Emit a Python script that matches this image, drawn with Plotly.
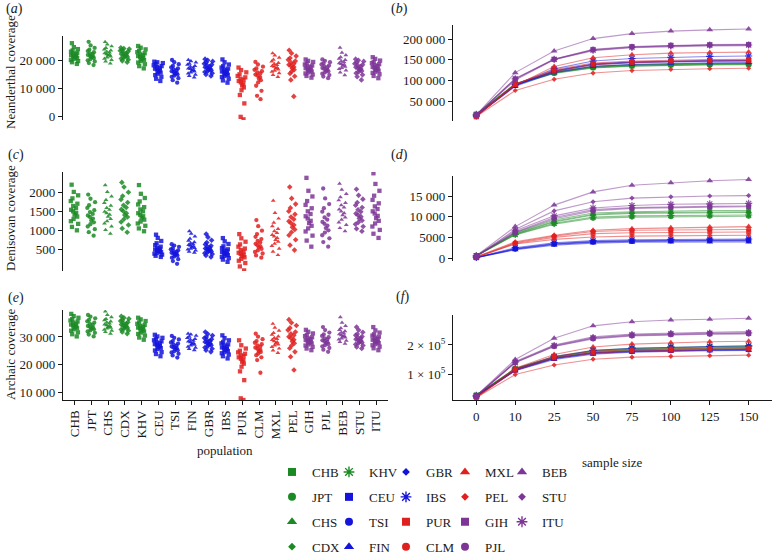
import plotly.graph_objects as go

# ---------------- data ----------------
POPS = ["CHB", "JPT", "CHS", "CDX", "KHV", "CEU", "TSI", "FIN", "GBR", "IBS",
        "PUR", "CLM", "MXL", "PEL", "GIH", "PJL", "BEB", "STU", "ITU"]
SAMPLE_SIZES = ["0", "10", "25", "50", "75", "100", "125", "150"]

# per-individual Neanderthal coverage (thousands of bp)
NEAND_K = {
    "CHB": [18.6, 19.2, 19.6, 20.0, 20.4, 20.7, 21.0, 21.3, 21.5, 21.7, 22.0, 22.3, 22.6, 23.0, 23.4, 23.9, 24.6, 26.0],
    "JPT": [18.2, 18.9, 19.5, 19.9, 20.3, 20.7, 21.0, 21.3, 21.5, 21.8, 22.1, 22.4, 22.8, 23.2, 23.7, 24.3, 25.2, 26.5],
    "CHS": [18.8, 19.5, 20.0, 20.5, 20.9, 21.3, 21.6, 21.9, 22.1, 22.4, 22.7, 23.0, 23.4, 23.8, 24.3, 24.9, 25.6, 26.5],
    "CDX": [19.2, 19.7, 20.1, 20.5, 20.8, 21.1, 21.4, 21.7, 21.9, 22.1, 22.4, 22.7, 23.0, 23.3, 23.6, 23.9, 24.1, 24.4],
    "KHV": [17.0, 17.8, 18.5, 19.1, 19.6, 20.0, 20.4, 20.8, 21.1, 21.4, 21.7, 22.0, 22.4, 22.8, 23.3, 23.8, 24.4, 25.0],
    "CEU": [12.5, 13.3, 14.0, 14.6, 15.1, 15.5, 15.9, 16.3, 16.6, 16.9, 17.2, 17.5, 17.8, 18.1, 18.5, 18.9, 19.2, 19.4],
    "TSI": [11.9, 12.8, 13.5, 14.0, 14.4, 14.8, 15.1, 15.4, 15.7, 16.0, 16.3, 16.6, 17.0, 17.4, 17.9, 18.5, 19.2, 20.0],
    "FIN": [13.8, 14.3, 14.8, 15.2, 15.6, 15.9, 16.2, 16.5, 16.8, 17.0, 17.3, 17.6, 17.9, 18.3, 18.7, 19.1, 19.6, 20.0],
    "GBR": [14.3, 14.8, 15.3, 15.7, 16.0, 16.3, 16.6, 16.9, 17.1, 17.4, 17.7, 18.0, 18.3, 18.7, 19.1, 19.5, 19.9, 20.3],
    "IBS": [11.9, 12.7, 13.3, 13.9, 14.3, 14.7, 15.0, 15.3, 15.6, 15.9, 16.2, 16.5, 16.9, 17.3, 17.8, 18.4, 19.2, 20.2],
    "PUR": [-1.2, -0.3, 4.5, 7.5, 9.2, 10.2, 10.9, 11.5, 12.0, 12.5, 12.9, 13.3, 13.8, 14.3, 14.9, 15.6, 16.4, 17.3],
    "CLM": [6.0, 7.2, 9.0, 10.8, 12.0, 12.8, 13.4, 13.9, 14.4, 14.8, 15.2, 15.6, 16.0, 16.5, 17.0, 17.6, 18.4, 19.3],
    "MXL": [14.0, 14.7, 15.3, 15.8, 16.2, 16.6, 17.0, 17.3, 17.6, 17.9, 18.2, 18.6, 19.0, 19.5, 20.1, 20.8, 21.6, 22.4],
    "PEL": [7.0, 12.9, 14.2, 15.2, 15.9, 16.5, 17.0, 17.5, 17.9, 18.3, 18.7, 19.1, 19.6, 20.1, 20.7, 21.4, 22.4, 23.5],
    "GIH": [13.7, 14.3, 14.8, 15.2, 15.6, 15.9, 16.2, 16.5, 16.8, 17.1, 17.4, 17.7, 18.0, 18.4, 18.8, 19.3, 19.7, 20.2],
    "PJL": [13.5, 14.1, 14.6, 15.1, 15.5, 15.9, 16.2, 16.5, 16.8, 17.1, 17.4, 17.7, 18.0, 18.4, 18.8, 19.2, 19.7, 20.2],
    "BEB": [14.6, 15.6, 16.3, 16.8, 17.2, 17.6, 18.0, 18.3, 18.6, 18.9, 19.2, 19.6, 20.0, 20.5, 21.0, 21.7, 22.6, 24.4],
    "STU": [12.9, 14.0, 14.7, 15.3, 15.7, 16.1, 16.5, 16.8, 17.1, 17.4, 17.7, 18.0, 18.3, 18.7, 19.1, 19.5, 19.9, 20.3],
    "ITU": [13.5, 14.3, 14.9, 15.4, 15.8, 16.2, 16.5, 16.9, 17.2, 17.5, 17.8, 18.1, 18.5, 18.9, 19.3, 19.8, 20.4, 21.0],
}

# per-individual Denisovan coverage (bp)
DENIS = {
    "CHB": [1010, 1100, 1180, 1250, 1310, 1370, 1420, 1470, 1510, 1550, 1600, 1650, 1710, 1780, 1850, 1930, 2020, 2210],
    "JPT": [870, 960, 1040, 1110, 1170, 1220, 1270, 1320, 1360, 1400, 1440, 1490, 1540, 1600, 1670, 1750, 1840, 1950],
    "CHS": [920, 1020, 1110, 1190, 1250, 1310, 1370, 1420, 1460, 1500, 1550, 1600, 1660, 1730, 1810, 1900, 2020, 2200],
    "CDX": [960, 1060, 1150, 1230, 1300, 1360, 1410, 1460, 1510, 1560, 1610, 1670, 1740, 1820, 1910, 2010, 2150, 2270],
    "KHV": [985, 1060, 1130, 1190, 1240, 1290, 1340, 1380, 1420, 1460, 1510, 1560, 1620, 1690, 1770, 1860, 1970, 2200],
    "CEU": [310, 340, 370, 395, 420, 440, 460, 475, 490, 505, 525, 550, 580, 620, 670, 730, 810, 895],
    "TSI": [130, 200, 250, 290, 320, 345, 370, 390, 405, 420, 440, 460, 485, 510, 540, 575, 610, 645],
    "FIN": [420, 450, 480, 505, 530, 550, 570, 590, 605, 625, 645, 670, 700, 740, 790, 850, 920, 985],
    "GBR": [310, 350, 385, 410, 435, 455, 475, 495, 510, 530, 550, 575, 605, 640, 690, 750, 830, 910],
    "IBS": [180, 240, 280, 310, 335, 360, 380, 400, 420, 440, 460, 485, 510, 545, 590, 650, 720, 805],
    "PUR": [-45, 60, 150, 210, 260, 300, 335, 365, 390, 420, 450, 490, 530, 580, 640, 710, 800, 910],
    "CLM": [290, 350, 400, 440, 480, 520, 555, 590, 620, 655, 690, 730, 780, 840, 910, 1000, 1120, 1280],
    "MXL": [360, 450, 530, 600, 660, 710, 760, 810, 850, 890, 940, 990, 1050, 1120, 1210, 1320, 1470, 1790],
    "PEL": [490, 620, 760, 880, 960, 1030, 1090, 1150, 1200, 1250, 1300, 1360, 1430, 1510, 1600, 1700, 1850, 2150],
    "GIH": [580, 740, 870, 980, 1060, 1130, 1200, 1260, 1320, 1380, 1440, 1510, 1590, 1680, 1780, 1900, 2050, 2390],
    "PJL": [580, 700, 800, 880, 950, 1010, 1070, 1130, 1180, 1230, 1290, 1350, 1420, 1500, 1590, 1700, 1850, 2110],
    "BEB": [985, 1070, 1150, 1220, 1290, 1350, 1410, 1460, 1510, 1560, 1610, 1670, 1730, 1800, 1880, 1970, 2080, 2240],
    "STU": [985, 1050, 1110, 1170, 1220, 1270, 1320, 1370, 1410, 1450, 1500, 1550, 1610, 1670, 1740, 1830, 1930, 2090],
    "ITU": [810, 920, 1020, 1110, 1190, 1260, 1330, 1390, 1450, 1510, 1570, 1640, 1720, 1810, 1920, 2050, 2230, 2510],
}

# per-individual archaic coverage (thousands of bp)
ARCH_K = {
    "CHB": [30.2, 31.0, 31.7, 32.3, 32.8, 33.2, 33.6, 33.9, 34.2, 34.5, 34.8, 35.2, 35.6, 36.0, 36.5, 37.0, 37.6, 38.4],
    "JPT": [30.2, 30.9, 31.5, 32.0, 32.4, 32.8, 33.1, 33.4, 33.7, 34.0, 34.4, 34.8, 35.2, 35.7, 36.2, 36.8, 37.4, 38.0],
    "CHS": [31.2, 31.8, 32.3, 32.7, 33.1, 33.4, 33.7, 34.0, 34.3, 34.6, 34.9, 35.3, 35.7, 36.1, 36.6, 37.2, 38.0, 39.3],
    "CDX": [31.2, 31.8, 32.3, 32.7, 33.0, 33.3, 33.6, 33.9, 34.2, 34.5, 34.8, 35.1, 35.4, 35.8, 36.2, 36.6, 37.0, 37.5],
    "KHV": [29.0, 29.8, 30.5, 31.1, 31.6, 32.0, 32.4, 32.8, 33.1, 33.4, 33.7, 34.0, 34.4, 34.8, 35.3, 35.8, 36.4, 37.0],
    "CEU": [23.0, 23.8, 24.5, 25.1, 25.6, 26.0, 26.4, 26.8, 27.1, 27.4, 27.7, 28.0, 28.4, 28.8, 29.2, 29.7, 30.2, 30.8],
    "TSI": [22.5, 23.3, 23.9, 24.4, 24.8, 25.2, 25.6, 25.9, 26.2, 26.5, 26.8, 27.2, 27.6, 28.0, 28.5, 29.1, 29.7, 30.4],
    "FIN": [25.2, 25.7, 26.1, 26.5, 26.9, 27.2, 27.5, 27.8, 28.1, 28.4, 28.7, 29.0, 29.3, 29.7, 30.1, 30.5, 30.9, 31.2],
    "GBR": [24.6, 25.2, 25.7, 26.2, 26.6, 27.0, 27.3, 27.6, 27.9, 28.2, 28.5, 28.8, 29.2, 29.6, 30.0, 30.5, 31.1, 31.8],
    "IBS": [22.2, 23.0, 23.6, 24.1, 24.5, 24.9, 25.3, 25.6, 25.9, 26.2, 26.5, 26.9, 27.3, 27.7, 28.2, 28.8, 29.6, 30.6],
    "PUR": [7.1, 7.7, 14.3, 17.5, 19.2, 20.3, 21.0, 21.6, 22.1, 22.6, 23.0, 23.4, 23.9, 24.4, 25.0, 25.8, 27.0, 28.8],
    "CLM": [17.0, 21.6, 22.6, 23.4, 24.0, 24.5, 24.9, 25.3, 25.7, 26.1, 26.5, 26.9, 27.4, 27.9, 28.5, 29.2, 30.1, 31.2],
    "MXL": [24.2, 25.1, 25.8, 26.4, 26.9, 27.3, 27.7, 28.1, 28.5, 28.9, 29.3, 29.7, 30.2, 30.8, 31.5, 32.3, 33.4, 34.8],
    "PEL": [18.0, 22.8, 24.6, 25.9, 26.9, 27.7, 28.4, 29.0, 29.6, 30.1, 30.6, 31.2, 31.8, 32.5, 33.3, 34.2, 35.2, 36.3],
    "GIH": [25.2, 25.8, 26.4, 26.9, 27.3, 27.7, 28.0, 28.3, 28.6, 28.9, 29.2, 29.5, 29.9, 30.3, 30.8, 31.3, 31.9, 32.6],
    "PJL": [24.6, 25.4, 26.0, 26.6, 27.0, 27.4, 27.8, 28.1, 28.5, 28.8, 29.1, 29.5, 29.9, 30.4, 30.9, 31.6, 32.5, 33.6],
    "BEB": [27.6, 28.2, 28.7, 29.1, 29.5, 29.8, 30.1, 30.4, 30.7, 31.0, 31.3, 31.7, 32.1, 32.6, 33.2, 34.0, 35.2, 37.2],
    "STU": [25.8, 26.4, 26.9, 27.3, 27.7, 28.0, 28.3, 28.6, 28.9, 29.2, 29.5, 29.8, 30.2, 30.6, 31.1, 31.7, 32.5, 33.6],
    "ITU": [25.2, 25.9, 26.5, 27.0, 27.4, 27.8, 28.1, 28.4, 28.7, 29.0, 29.3, 29.7, 30.1, 30.5, 31.0, 31.6, 32.4, 33.6],
}

# cumulative Neanderthal coverage by sample size
NEAND_CUM = {
    "CHB": [19000, 90000, 118000, 131000, 135000, 137500, 138500, 139000],
    "JPT": [18500, 89000, 117000, 130000, 134500, 136500, 137500, 138000],
    "CHS": [19000, 91000, 119000, 132000, 136500, 138500, 139500, 140500],
    "CDX": [19000, 92000, 120000, 133000, 137000, 139500, 140500, 141000],
    "KHV": [18500, 92000, 121000, 134000, 138000, 140000, 141000, 141500],
    "CEU": [15500, 89000, 124000, 140000, 145000, 147500, 148500, 149000],
    "TSI": [15000, 88000, 122000, 138000, 143000, 145500, 146500, 147000],
    "FIN": [16000, 86000, 119000, 134000, 139000, 141500, 142500, 143000],
    "GBR": [15500, 88000, 123000, 139000, 144000, 146000, 147000, 148000],
    "IBS": [15000, 90000, 128000, 147000, 153000, 156000, 158000, 159000],
    "PUR": [12500, 92000, 122000, 138000, 143000, 146000, 147000, 148000],
    "CLM": [14000, 91000, 126000, 142000, 147000, 149500, 150500, 151000],
    "MXL": [15000, 88000, 134000, 155000, 162000, 166000, 167500, 168500],
    "PEL": [13500, 76000, 103000, 118000, 124000, 127000, 128500, 129500],
    "GIH": [17000, 103000, 151000, 175000, 182000, 185000, 186500, 187000],
    "PJL": [17500, 105000, 152000, 174000, 181000, 184000, 185500, 186000],
    "BEB": [17000, 119000, 171000, 201000, 213000, 219000, 222000, 224000],
    "STU": [16500, 101000, 150000, 172000, 179000, 182000, 183500, 184000],
    "ITU": [17000, 104000, 151000, 173000, 180000, 183500, 185000, 185500],
}

# cumulative Denisovan coverage by sample size
DENIS_CUM = {
    "CHB": [600, 6100, 9200, 10900, 11200, 11400, 11500, 11500],
    "JPT": [500, 5600, 8200, 9600, 9900, 10000, 10100, 10100],
    "CHS": [550, 5900, 8900, 10600, 11000, 11100, 11200, 11200],
    "CDX": [580, 5800, 8700, 10400, 10800, 10900, 11000, 11000],
    "KHV": [520, 5700, 8400, 9900, 10200, 10300, 10400, 10400],
    "CEU": [100, 2300, 3500, 4000, 4200, 4300, 4350, 4400],
    "TSI": [80, 2100, 3300, 3800, 4000, 4100, 4150, 4200],
    "FIN": [60, 2000, 3100, 3600, 3800, 3850, 3900, 3900],
    "GBR": [120, 2200, 3400, 3900, 4100, 4200, 4250, 4300],
    "IBS": [150, 2500, 3700, 4200, 4400, 4500, 4550, 4600],
    "PUR": [100, 3500, 5000, 5900, 6100, 6200, 6300, 6300],
    "CLM": [200, 3700, 5300, 6400, 6700, 6800, 6900, 6900],
    "MXL": [300, 3900, 5500, 6700, 7100, 7300, 7500, 7600],
    "PEL": [250, 3400, 4500, 5100, 5300, 5400, 5450, 5500],
    "GIH": [480, 6300, 9800, 11700, 12200, 12400, 12500, 12600],
    "PJL": [420, 6200, 9500, 11400, 12000, 12200, 12300, 12400],
    "BEB": [560, 7600, 12800, 16000, 17600, 18200, 18700, 19000],
    "STU": [450, 6900, 11400, 13600, 14500, 14800, 15000, 15100],
    "ITU": [500, 6600, 10200, 12100, 12700, 13000, 13100, 13200],
}

# cumulative archaic coverage by sample size
ARCH_CUM = {
    "CHB": [27000, 117000, 156000, 176000, 183000, 187000, 189000, 190000],
    "JPT": [26500, 116000, 154000, 174000, 181000, 185000, 187000, 188000],
    "CHS": [27000, 118000, 157000, 178000, 185000, 189000, 191000, 192000],
    "CDX": [27000, 119000, 158000, 180000, 187000, 191000, 193000, 194000],
    "KHV": [26500, 120000, 160000, 182000, 189000, 193000, 195000, 196000],
    "CEU": [23500, 114000, 155000, 173000, 179000, 182000, 184000, 185000],
    "TSI": [22500, 113000, 153000, 171000, 177000, 180000, 182000, 183000],
    "FIN": [24000, 111000, 150000, 168000, 175000, 178000, 180000, 181000],
    "GBR": [23500, 113000, 154000, 172000, 178000, 181000, 183000, 184000],
    "IBS": [23000, 116000, 160000, 181000, 189000, 193000, 195000, 197000],
    "PUR": [18000, 113000, 155000, 172000, 179000, 182000, 184000, 186000],
    "CLM": [20000, 117000, 160000, 178000, 184000, 187000, 189000, 190000],
    "MXL": [21000, 120000, 167000, 193000, 203000, 208000, 211000, 213000],
    "PEL": [19000, 98000, 131000, 151000, 158000, 161000, 163000, 165000],
    "GIH": [24000, 140000, 196000, 223000, 233000, 237000, 239000, 240000],
    "PJL": [23500, 139000, 195000, 221000, 231000, 235000, 237000, 238000],
    "BEB": [25000, 150000, 223000, 266000, 280000, 286000, 289000, 292000],
    "STU": [24000, 143000, 200000, 228000, 238000, 242000, 244000, 246000],
    "ITU": [24500, 141000, 198000, 225000, 235000, 239000, 241000, 242000],
}

# ---------------- style ----------------
GREEN, BLUE, RED, PURPLE = "#1b8a24", "#1414dc", "#e0201f", "#7d3596"
GREEN_A, BLUE_A, RED_A, PURPLE_A = ("rgba(27,138,36,0.5)", "rgba(20,20,220,0.5)",
                                    "rgba(224,32,31,0.5)", "rgba(125,53,150,0.5)")
SYM_ORDER = ["square", "circle", "triangle-up", "diamond", "asterisk-open"]
STYLE = {}
for i, p in enumerate(POPS):
    if i < 5:
        c, ca, s = GREEN, GREEN_A, SYM_ORDER[i]
    elif i < 10:
        c, ca, s = BLUE, BLUE_A, SYM_ORDER[i - 5]
    elif i < 14:
        c, ca, s = RED, RED_A, SYM_ORDER[i - 10]
    else:
        c, ca, s = PURPLE, PURPLE_A, SYM_ORDER[i - 14]
    STYLE[p] = (c, ca, s)

SYM_SIZE = {"square": 6, "circle": 6, "triangle-up": 7, "diamond": 5, "asterisk-open": 7}
LEG_SIZE = {"square": 8, "circle": 8, "triangle-up": 9, "diamond": 6, "asterisk-open": 9}

FONT = "Liberation Serif"
INK = "#1a1a1a"
W, H = 774, 555

fig = go.Figure()

# ---------------- left panels: jittered strips ----------------
left_sets = [("x", "y", NEAND_K, 1000), ("x3", "y3", DENIS, 1), ("x5", "y5", ARCH_K, 1000)]
for xa, ya, d, mult in left_sets:
    for p in POPS:
        c, ca, s = STYLE[p]
        vals = [v * mult for v in d[p]]
        fig.add_trace(go.Box(
            x=[p] * len(vals), y=vals, xaxis=xa, yaxis=ya,
            boxpoints="all", jitter=0.95, pointpos=0, width=0.62,
            fillcolor="rgba(0,0,0,0)", line=dict(width=0, color="rgba(0,0,0,0)"),
            whiskerwidth=0,
            marker=dict(color=c, size=4.3, symbol="square" if s == "asterisk-open" else s,
                        opacity=0.85),
            showlegend=False, hoverinfo="y"))

# ---------------- right panels: accumulation curves ----------------
right_sets = [("x2", "y2", NEAND_CUM), ("x4", "y4", DENIS_CUM), ("x6", "y6", ARCH_CUM)]
for xa, ya, d in right_sets:
    for p in POPS:
        c, ca, s = STYLE[p]
        mk = dict(color=c, size=SYM_SIZE[s] - 1, symbol=s, opacity=0.85)
        if s == "asterisk-open":
            mk["line"] = dict(color=c, width=1.2)
        fig.add_trace(go.Scatter(
            x=SAMPLE_SIZES, y=d[p], xaxis=xa, yaxis=ya, mode="lines+markers",
            line=dict(color=ca, width=1.1), marker=mk,
            showlegend=False, name=p))

# ---------------- legend (5 columns x 4 rows) ----------------
legend_ids = ["legend", "legend2", "legend3", "legend4", "legend5"]
for i, p in enumerate(POPS):
    c, ca, s = STYLE[p]
    mk = dict(color=c, size=LEG_SIZE[s], symbol=s)
    if s == "asterisk-open":
        mk["line"] = dict(color=c, width=1.4)
    fig.add_trace(go.Scatter(
        x=[None], y=[None], xaxis="x", yaxis="y", mode="markers", marker=mk,
        name=p, legend=legend_ids[i // 4], legendgroup=p, showlegend=True))

# ---------------- layout ----------------
def ydom(top, bottom):
    return [1 - bottom / H, 1 - top / H]

LX = [63 / W, 388 / W]
RX = [453 / W, 772 / W]

axis_line = dict(showline=True, linecolor=INK, linewidth=1.4, ticks="outside",
                 ticklen=4, tickwidth=1, tickcolor=INK, showgrid=False, zeroline=False,
                 automargin=False, tickfont=dict(family=FONT, size=13, color=INK))
hidden_x = dict(showline=False, showticklabels=False, ticks="", showgrid=False,
                zeroline=False, automargin=False)

layout = dict(
    width=W, height=H, margin=dict(l=0, r=0, t=0, b=0, pad=0, autoexpand=False),
    paper_bgcolor="white", plot_bgcolor="white",
    font=dict(family=FONT, size=13, color=INK),
    boxmode="overlay",
    xaxis=dict(domain=LX, anchor="y", type="category", categoryorder="array",
               categoryarray=POPS, range=[-0.7, 18.7], **hidden_x),
    xaxis3=dict(domain=LX, anchor="y3", type="category", categoryorder="array",
                categoryarray=POPS, range=[-0.7, 18.7], **hidden_x),
    xaxis5=dict(domain=LX, anchor="y5", type="category", categoryorder="array",
                categoryarray=POPS, range=[-0.7, 18.7], tickangle=-90, **axis_line),
    xaxis2=dict(domain=RX, anchor="y2", type="category", categoryorder="array",
                categoryarray=SAMPLE_SIZES, range=[-0.6, 7.6], **hidden_x),
    xaxis4=dict(domain=RX, anchor="y4", type="category", categoryorder="array",
                categoryarray=SAMPLE_SIZES, range=[-0.6, 7.6], **hidden_x),
    xaxis6=dict(domain=RX, anchor="y6", type="category", categoryorder="array",
                categoryarray=SAMPLE_SIZES, range=[-0.6, 7.6], **axis_line),
    yaxis=dict(domain=ydom(36, 120), anchor="x", range=[-1430, 28570],
               tickvals=[0, 10000, 20000], ticktext=["0", "10 000", "20 000"], **axis_line),
    yaxis2=dict(domain=ydom(25, 121), anchor="x2", range=[2540, 233700],
                tickvals=[50000, 100000, 150000, 200000],
                ticktext=["50 000", "100 000", "150 000", "200 000"], **axis_line),
    yaxis3=dict(domain=ydom(172, 271), anchor="x3", range=[-60, 2544],
                tickvals=[500, 1000, 1500, 2000], ticktext=["500", "1000", "1500", "2000"],
                **axis_line),
    yaxis4=dict(domain=ydom(176, 261), anchor="x4", range=[-726, 19844],
                tickvals=[0, 5000, 10000, 15000], ticktext=["0", "5000", "10 000", "15 000"],
                **axis_line),
    yaxis5=dict(domain=ydom(310, 400), anchor="x5", range=[7090, 39815],
                tickvals=[10000, 20000, 30000], ticktext=["10 000", "20 000", "30 000"],
                **axis_line),
    yaxis6=dict(domain=ydom(315, 400), anchor="x6", range=[10350, 303400],
                tickvals=[100000, 200000],
                ticktext=["1 × 10<sup>5</sup>", "2 × 10<sup>5</sup>"], **axis_line),
)

leg_x = [272, 329, 386, 445, 502]
for i, lid in enumerate(legend_ids):
    layout[lid] = dict(x=leg_x[i] / W, y=1 - 457 / H, xanchor="left", yanchor="top",
                       orientation="v", tracegroupgap=5, bgcolor="rgba(0,0,0,0)",
                       font=dict(family=FONT, size=13, color=INK), itemwidth=30)

fig.update_layout(**layout)

# panel labels and titles
def ann(text, x, y, size=13, angle=0, xanchor="center"):
    fig.add_annotation(text=text, x=x / W, y=1 - y / H, xref="paper", yref="paper",
                       showarrow=False, textangle=angle, xanchor=xanchor, yanchor="middle",
                       font=dict(family=FONT, size=size, color=INK))

for lab, x, y in [("a", 4, 9), ("b", 389, 9), ("c", 6, 155), ("d", 389, 155),
                  ("e", 6, 298), ("f", 394, 297)]:
    ann(f"(<i>{lab}</i>)", x, y, size=14, xanchor="left")

ann("Neanderthal coverage", 10, 72, angle=-90)
ann("Denisovan coverage", 10, 218, angle=-90)
ann("Archaic coverage", 10, 354, angle=-90)
ann("population", 225, 450)
ann("sample size", 612, 462)

# the page's default body margin would offset the fixed-size figure
fig.write_html("out.html", config={"displayModeBar": False},
               post_script="document.body.style.margin='0';document.body.style.overflow='hidden';")
